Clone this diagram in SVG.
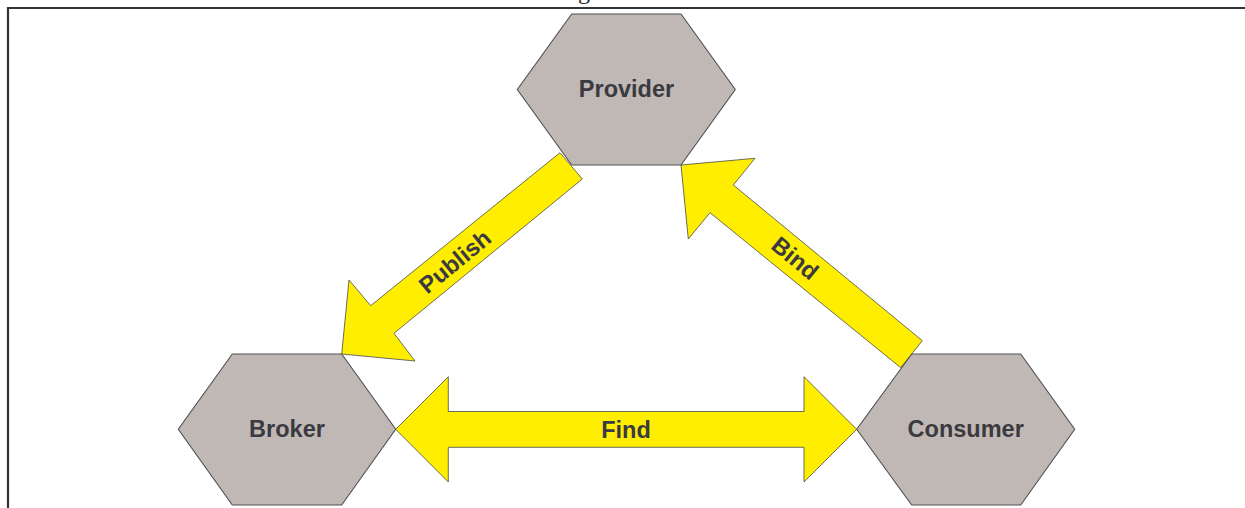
<svg xmlns="http://www.w3.org/2000/svg" width="1245" height="508" viewBox="0 0 1245 508">
  <style>
    .hex { fill: #c0b8b5; stroke: #505053; stroke-width: 1.1; }
    .arrow { fill: #ffee00; stroke: #4a4a4a; stroke-width: 0.8; stroke-linejoin: miter; }
    .lbl { font-family: "Liberation Sans", Arial, sans-serif; font-weight: bold; font-size: 23.5px; fill: #3a3a40; text-anchor: middle; }
    .frame { fill: none; stroke: #333338; stroke-width: 2.2; }
    .head { font-family: "Liberation Serif", "Times New Roman", serif; font-size: 24px; fill: #222; }
  </style>
  <rect width="1245" height="508" fill="#ffffff"/>
  <text class="head" x="616" y="-1.5" text-anchor="end">with SOAP messages.</text>
  <path class="frame" d="M8,508 V8 H1245"/>

  <g id="connectors">
    <g id="publish">
      <polygon class="arrow" points="560,152.7 582.3,179 394,333.3 415,361 341.7,354 349,280 370.7,305.7"/>
      <text class="lbl" transform="translate(455,261.7) rotate(-39.4)" y="8">Publish</text>
    </g>
    <g id="bind">
      <polygon class="arrow" points="922.3,340.7 900.7,367.7 710,212.7 688.3,239 681,165 755,158.3 733.3,185"/>
      <text class="lbl" transform="translate(795,258.3) rotate(39.5)" y="8">Bind</text>
    </g>
    <g id="find">
      <polygon class="arrow" points="395.7,429.3 448.3,376.7 448.3,411.5 804,411.5 804,376.7 856.7,429.3 804,482 804,447.3 448.3,447.3 448.3,482"/>
      <text class="lbl" x="626" y="437.5">Find</text>
    </g>
  </g>

  <g id="provider">
    <polygon class="hex" points="571.7,14 681,14 735.3,89.5 681,165 571.7,165 517.3,89.5"/>
    <text class="lbl" x="626.5" y="97">Provider</text>
  </g>
  <g id="broker">
    <polygon class="hex" points="232.3,354 341.7,354 395.7,429.3 341.7,505 232.3,505 178.3,429.3"/>
    <text class="lbl" x="287" y="437">Broker</text>
  </g>
  <g id="consumer">
    <polygon class="hex" points="911.7,354 1020.7,354 1074.7,429.3 1020.7,505 911.7,505 856.7,429.3"/>
    <text class="lbl" x="965.7" y="437">Consumer</text>
  </g>
</svg>
